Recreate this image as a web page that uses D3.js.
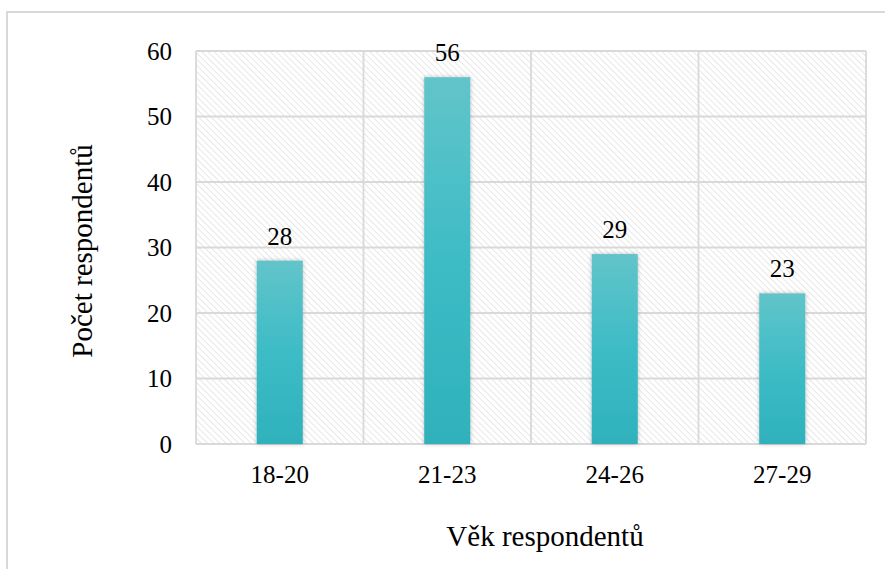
<!DOCTYPE html>
<html><head><meta charset="utf-8">
<script src="https://cdn.jsdelivr.net/npm/d3@7/dist/d3.min.js"></script>
<style>body{margin:0;background:#fff}svg{display:block}</style>
</head><body>
<svg id="c" width="885" height="569"></svg>
<script>
const categories = ["18-20","21-23","24-26","27-29"];
const values = [28,56,29,23];
const yTicks = [0,10,20,30,40,50,60];
const yTitle = "Počet respondentů";
const xTitle = "Věk respondentů";

const svg = d3.select("#c");
const m = {l:196, r:866, t:51, b:444};
const font = "'Liberation Serif','Times New Roman',serif";

const defs = svg.append("defs");
const pat = defs.append("pattern").attr("id","hatch").attr("patternUnits","userSpaceOnUse")
  .attr("width",4.4).attr("height",4.4).attr("patternTransform","rotate(-45)");
pat.append("rect").attr("width",4.4).attr("height",4.4).attr("fill","#fff");
pat.append("line").attr("x1",0).attr("y1",0).attr("x2",0).attr("y2",4.4)
  .attr("stroke","#dadada").attr("stroke-width",1.2);
const grad = defs.append("linearGradient").attr("id","bg").attr("x1",0).attr("y1",0).attr("x2",0).attr("y2",1);
grad.append("stop").attr("offset","0%").attr("stop-color","#62c4ca");
grad.append("stop").attr("offset","50%").attr("stop-color","#3dbcc6");
grad.append("stop").attr("offset","100%").attr("stop-color","#2fb1bb");
const f = defs.append("filter").attr("id","sh").attr("x","-30%").attr("y","-10%").attr("width","160%").attr("height","120%");
f.append("feDropShadow").attr("dx",0).attr("dy",0).attr("stdDeviation",2).attr("flood-color","#000").attr("flood-opacity",0.25);

// outer border
svg.append("rect").attr("x",7).attr("y",12).attr("width",900).attr("height",600)
  .attr("fill","none").attr("stroke","#d9d9d9").attr("stroke-width",2);

const x = d3.scaleBand().domain(categories).range([m.l,m.r]).paddingInner(0.725).paddingOuter(0.3625);
const y = d3.scaleLinear().domain([0,60]).range([m.b,m.t]);

svg.append("rect").attr("x",m.l).attr("y",m.t).attr("width",m.r-m.l).attr("height",m.b-m.t).attr("fill","url(#hatch)");

// gridlines
svg.append("g").selectAll("line").data(yTicks).join("line")
  .attr("x1",m.l).attr("x2",m.r).attr("y1",d=>y(d)).attr("y2",d=>y(d))
  .attr("stroke","#d9d9d9").attr("stroke-width",1.8);
const xb = d3.scaleBand().domain(categories).range([m.l,m.r]);
const vx = [m.l, ...categories.map(c=>xb(c)+xb.bandwidth())];
svg.append("g").selectAll("line").data(vx).join("line")
  .attr("x1",d=>d).attr("x2",d=>d).attr("y1",m.t).attr("y2",m.b)
  .attr("stroke","#d9d9d9").attr("stroke-width",1.8);

// bars
svg.append("g").selectAll("rect").data(values).join("rect")
  .attr("x",(d,i)=>x(categories[i])).attr("width",x.bandwidth())
  .attr("y",d=>y(d)).attr("height",d=>y(0)-y(d))
  .attr("fill","url(#bg)").attr("filter","url(#sh)");

// labels
svg.append("g").selectAll("text").data(values).join("text")
  .attr("x",(d,i)=>x(categories[i])+x.bandwidth()/2).attr("y",d=>y(d)-16)
  .attr("text-anchor","middle").attr("font-family",font).attr("font-size",25).attr("fill","#000")
  .text(d=>d);

// y axis labels
const yAxis = d3.axisLeft(y).tickValues(yTicks).tickSize(0).tickPadding(24);
const ga = svg.append("g").attr("transform",`translate(${m.l},0)`).call(yAxis);
ga.select(".domain").remove();
ga.selectAll("text").attr("font-family",font).attr("font-size",25).attr("fill","#000");

const xAxis = d3.axisBottom(xb).tickSize(0).tickPadding(21);
const gx = svg.append("g").attr("transform",`translate(0,${m.b})`).call(xAxis);
gx.select(".domain").remove();
gx.selectAll("text").attr("font-family",font).attr("font-size",25).attr("fill","#000");

svg.append("text").attr("x",545).attr("y",546).attr("text-anchor","middle")
  .attr("font-family",font).attr("font-size",29).attr("fill","#000").text(xTitle);
svg.append("text").attr("transform","translate(92,251) rotate(-90)").attr("text-anchor","middle")
  .attr("font-family",font).attr("font-size",29).attr("fill","#000").text(yTitle);
</script>
</body></html>
